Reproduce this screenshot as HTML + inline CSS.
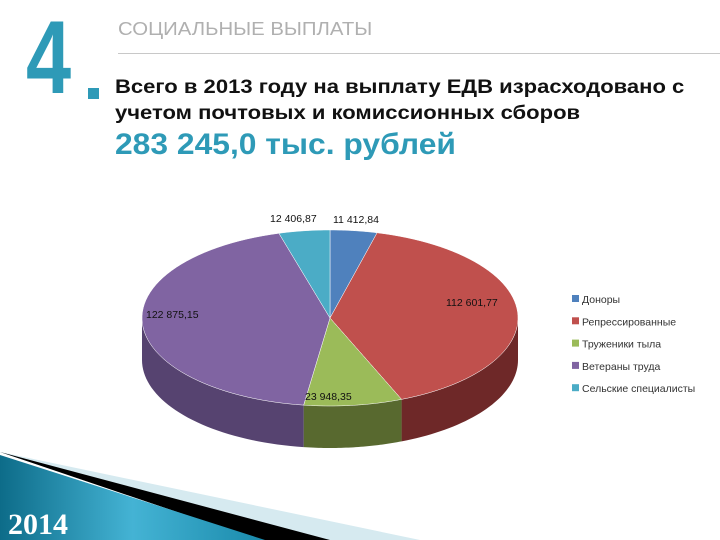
<!DOCTYPE html>
<html><head><meta charset="utf-8"><style>
body{margin:0;width:720px;height:540px;overflow:hidden;background:#fff;font-family:"Liberation Sans","Noto Sans CJK SC",sans-serif;position:relative}
.a{position:absolute;white-space:nowrap}
</style></head><body>
<div class="a" style="left:26px;top:6px;font-size:104px;font-weight:bold;color:#2e9ab7;line-height:104px;transform:scaleX(0.78);transform-origin:left">4</div>
<div class="a" style="left:118px;top:19px;font-size:18px;color:#b0b0b0;transform:scaleX(1.13);transform-origin:left">СОЦИАЛЬНЫЕ ВЫПЛАТЫ</div>
<div class="a" style="left:118px;top:53px;width:602px;height:1px;background:#c8c8c8"></div>
<div class="a" style="left:88px;top:88px;width:11px;height:11px;background:#2e9ab7"></div>
<div class="a" style="left:115px;top:74px;font-size:19.5px;font-weight:bold;color:#111;line-height:26px;transform:scaleX(1.13);transform-origin:left">Всего в 2013 году на выплату ЕДВ израсходовано с<br>учетом почтовых и комиссионных сборов</div>
<div class="a" style="left:115px;top:128px;font-size:30px;font-weight:bold;color:#2e9ab7;transform:scaleX(1.06);transform-origin:left">283 245,0 тыс. рублей</div>
<svg class="a" style="left:0;top:0" width="720" height="540">
<defs>
<linearGradient id="bg" x1="0" y1="0" x2="1" y2="0"><stop offset="0" stop-color="#0d6c89"/><stop offset="0.5" stop-color="#44b3d4"/><stop offset="1" stop-color="#1a8aab"/></linearGradient>
</defs>
<g id="pie"></g>
<g id="legend"></g>
<polygon points="0,452 420,540 260,540" fill="#d6eaf0"/>
<polygon points="0,452 330,540 260,540" fill="#000"/>
<polygon points="0,455 265,540 0,540" fill="url(#bg)"/>
<text x="8" y="534" font-family="Liberation Serif,serif" font-weight="bold" font-size="30" fill="#fff">2014</text>
</svg>
<script>
const categories=["Доноры","Репрессированные","Труженики тыла","Ветераны труда","Сельские специалисты"];
const values=[11412.84,112601.77,23948.35,122875.15,12406.87];
const valueLabels=["11 412,84","112 601,77","23 948,35","122 875,15","12 406,87"];
const colors=["#4f81bd","#c0504d","#9bbb59","#8064a2","#4bacc6"];
const sideColors=["#34587f","#6e2828","#58692f","#564370","#2f7385"];
const NS="http://www.w3.org/2000/svg";
const cx=330,cy=318,rx=188,ry=88,depth=42;
const pt=(t,d)=>[cx+rx*Math.sin(t),cy-ry*Math.cos(t)+(d||0)];
const g=document.getElementById('pie');
const total=values.reduce((a,b)=>a+b,0);
let acc=0;const angs=[];
values.forEach(v=>{const a=acc/total*2*Math.PI;acc+=v;angs.push([a,acc/total*2*Math.PI]);});
function mk(tag,attrs){const e=document.createElementNS(NS,tag);for(const k in attrs)e.setAttribute(k,attrs[k]);return e;}
angs.forEach(([a,b],i)=>{
  const s=Math.max(a,Math.PI/2),e=Math.min(b,1.5*Math.PI);
  if(e<=s)return;
  let d="";const n=40;
  for(let k=0;k<=n;k++){const p=pt(s+(e-s)*k/n);d+=(k?"L":"M")+p[0]+","+p[1];}
  for(let k=n;k>=0;k--){const p=pt(s+(e-s)*k/n,depth);d+="L"+p[0]+","+p[1];}
  const el=mk('path',{d:d+"Z",fill:sideColors[i]});
  
  
  g.appendChild(el);
});
angs.forEach(([a,b],i)=>{
  let d="M"+cx+","+cy;const n=60;
  for(let k=0;k<=n;k++){const p=pt(a+(b-a)*k/n);d+="L"+p[0]+","+p[1];}
  const el=mk('path',{d:d+"Z",fill:colors[i],stroke:"#fff","stroke-width":"0.5"});
  
  
  g.appendChild(el);
});
const lblXY=[[333,223],[446,306],[305,400],[146,318],[270,222]];
values.forEach((v,i)=>{
  const t=mk('text',{x:lblXY[i][0],y:lblXY[i][1],"font-size":"10.5",fill:"#111"});
  t.textContent=valueLabels[i];
  
  
  g.appendChild(t);
});
const lg=document.getElementById('legend');
categories.forEach((c,i)=>{
  const y=300+i*22.3;
  const r=mk('rect',{x:572,y:y-5,width:7,height:7,fill:colors[i]});
  
  
  lg.appendChild(r);
  const t=mk('text',{x:582,y:y+3,"font-size":"10.5",fill:"#333"});
  t.textContent=c;
  
  
  lg.appendChild(t);
});
</script>
</body></html>
